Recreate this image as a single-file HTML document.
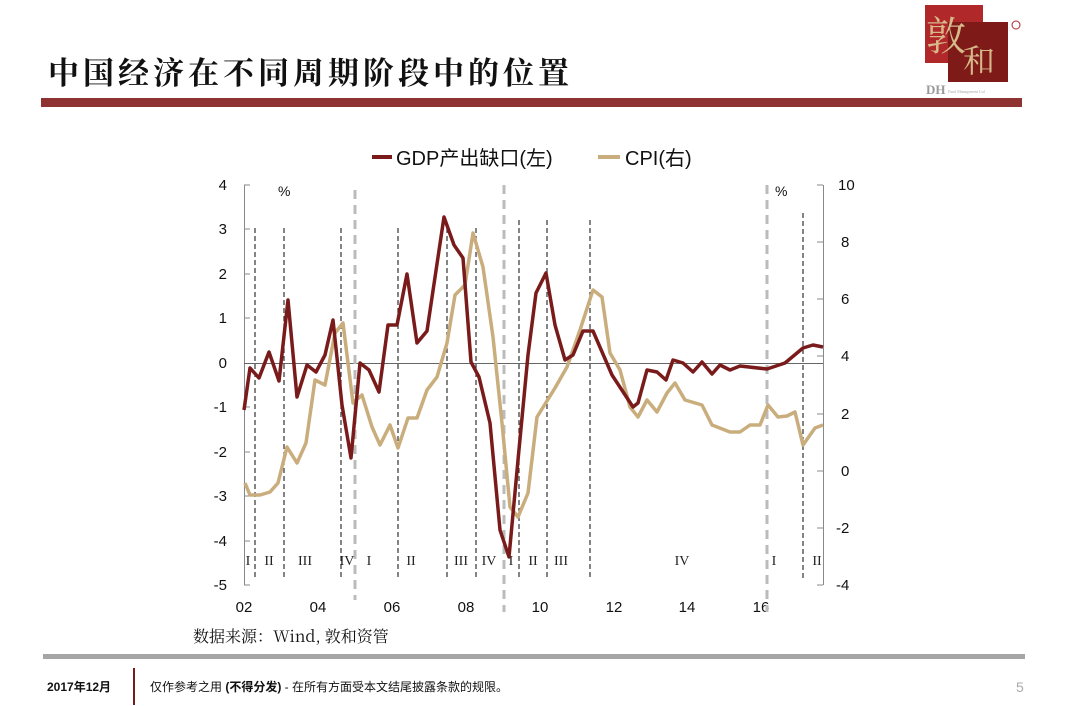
<!DOCTYPE html>
<html><head><meta charset="utf-8"><style>
body{margin:0;background:#fff;}
svg{display:block;}
</style></head><body>
<svg width="1072" height="706" viewBox="0 0 1072 706" xmlns="http://www.w3.org/2000/svg">
<rect width="1072" height="706" fill="#fff"/>
<!-- logo -->
<rect x="925" y="5" width="58" height="58" fill="#b0282a"/>
<rect x="948" y="22" width="60" height="60" fill="#7e1a18"/>
<text x="926" y="50" font-family="Noto Serif CJK SC, serif" font-size="40" fill="#d8b98a">敦</text>
<text x="963" y="72" font-family="Noto Serif CJK SC, serif" font-size="32" fill="#d8b98a">和</text>
<circle cx="1016" cy="25" r="4" fill="none" stroke="#b0282a" stroke-width="1"/>
<text x="926" y="94" font-family="Liberation Serif, serif" font-size="13" font-weight="bold" fill="#999">DH</text>
<text x="948" y="93" font-family="Liberation Serif, serif" font-size="4" fill="#aaa">Fund Management Ltd</text>
<!-- title -->
<text x="48" y="84" font-family="Noto Serif CJK SC, serif" font-size="31" font-weight="bold" letter-spacing="4" fill="#111">中国经济在不同周期阶段中的位置</text>
<rect x="41" y="98" width="981" height="9" fill="#8e3232"/>
<!-- legend -->
<line x1="372" y1="157" x2="392" y2="157" stroke="#7a1b1b" stroke-width="4"/>
<text x="396" y="165" font-family="Liberation Sans, Noto Sans CJK SC, sans-serif" font-size="20" fill="#111">GDP产出缺口(左)</text>
<line x1="598" y1="157" x2="620" y2="157" stroke="#c9ad7c" stroke-width="4"/>
<text x="625" y="165" font-family="Liberation Sans, sans-serif" font-size="20" fill="#111">CPI(右)</text>
<!-- axes -->
<g stroke="#888" stroke-width="1" fill="none">
<line x1="244.5" y1="185" x2="244.5" y2="585"/>
<line x1="823.5" y1="185" x2="823.5" y2="585"/>
<line x1="244" y1="363.5" x2="823" y2="363.5" stroke="#666"/>
</g>
<g stroke="#888" stroke-width="1">
<line x1="244" y1="185" x2="250" y2="185"/><line x1="244" y1="229" x2="250" y2="229"/><line x1="244" y1="274" x2="250" y2="274"/><line x1="244" y1="318" x2="250" y2="318"/><line x1="244" y1="407" x2="250" y2="407"/><line x1="244" y1="452" x2="250" y2="452"/><line x1="244" y1="496" x2="250" y2="496"/><line x1="244" y1="541" x2="250" y2="541"/><line x1="244" y1="585" x2="250" y2="585"/>
<line x1="817" y1="185" x2="823" y2="185"/><line x1="817" y1="242" x2="823" y2="242"/><line x1="817" y1="299" x2="823" y2="299"/><line x1="817" y1="356" x2="823" y2="356"/><line x1="817" y1="414" x2="823" y2="414"/><line x1="817" y1="471" x2="823" y2="471"/><line x1="817" y1="528" x2="823" y2="528"/><line x1="817" y1="585" x2="823" y2="585"/>
</g>
<g font-family="Liberation Sans, sans-serif" font-size="15" fill="#111" text-anchor="end">
<text x="227" y="190">4</text><text x="227" y="234">3</text><text x="227" y="279">2</text><text x="227" y="323">1</text><text x="227" y="368">0</text><text x="227" y="412">-1</text><text x="227" y="457">-2</text><text x="227" y="501">-3</text><text x="227" y="546">-4</text><text x="227" y="590">-5</text>
</g>
<g font-family="Liberation Sans, sans-serif" font-size="15" fill="#111" text-anchor="start">
<text x="838" y="190">10</text><text x="841" y="247">8</text><text x="841" y="304">6</text><text x="841" y="361">4</text><text x="841" y="419">2</text><text x="841" y="476">0</text><text x="836" y="533">-2</text><text x="836" y="590">-4</text>
</g>
<g font-family="Liberation Sans, sans-serif" font-size="15" fill="#111" text-anchor="middle">
<text x="244" y="612">02</text><text x="318" y="612">04</text><text x="392" y="612">06</text><text x="466" y="612">08</text><text x="540" y="612">10</text><text x="614" y="612">12</text><text x="687" y="612">14</text><text x="761" y="612">16</text>
</g>
<text x="278" y="196" font-family="Liberation Sans, sans-serif" font-size="14" fill="#111">%</text>
<text x="775" y="196" font-family="Liberation Sans, sans-serif" font-size="14" fill="#111">%</text>
<!-- dashed lines -->
<g stroke="#333" stroke-width="1.2" stroke-dasharray="5,3">
<line x1="255" y1="228" x2="255" y2="578"/><line x1="284" y1="228" x2="284" y2="578"/><line x1="341" y1="228" x2="341" y2="578"/><line x1="398" y1="228" x2="398" y2="578"/><line x1="447" y1="228" x2="447" y2="578"/><line x1="476" y1="228" x2="476" y2="578"/><line x1="519" y1="220" x2="519" y2="578"/><line x1="547" y1="220" x2="547" y2="578"/><line x1="590" y1="220" x2="590" y2="578"/><line x1="803" y1="213" x2="803" y2="578"/>
</g>
<g stroke="#bbb" stroke-width="3" stroke-dasharray="9,6">
<line x1="355" y1="190" x2="355" y2="600"/><line x1="504" y1="185" x2="504" y2="612"/><line x1="767" y1="185" x2="767" y2="612"/>
</g>
<g font-family="Liberation Serif, serif" font-size="14" fill="#222" text-anchor="middle">
<text x="248" y="565">I</text><text x="269" y="565">II</text><text x="305" y="565">III</text><text x="347" y="565">IV</text><text x="369" y="565">I</text><text x="411" y="565">II</text><text x="461" y="565">III</text><text x="489" y="565">IV</text><text x="511" y="565">I</text><text x="533" y="565">II</text><text x="561" y="565">III</text><text x="682" y="565">IV</text><text x="774" y="565">I</text><text x="817" y="565">II</text>
</g>
<!-- CPI -->
<polyline fill="none" stroke="#c9ad7c" stroke-width="3.5" stroke-linejoin="round" points="245,483 250,495 260,495 270,492 278,483 287,447 297,463 306,443 315,380 325,385 335,333 343,323 353,403 362,395 372,427 380,445 390,425 398,448 408,418 417,418 427,390 437,377 447,343 455,295 465,285 473,233 483,267 493,337 502,423 510,507 518,517 528,493 537,417 555,388 567,367 580,330 593,290 602,297 610,353 620,370 630,407 638,417 647,400 657,412 667,393 675,383 685,400 702,405 712,425 730,432 740,432 750,425 760,425 768,405 778,417 787,416 795,412 803,445 815,428 823,425"/>
<!-- GDP -->
<polyline fill="none" stroke="#7a1b1b" stroke-width="3.5" stroke-linejoin="round" points="244,410 250,368 259,378 269,352 279,381 288,300 297,397 307,365 316,372 325,355 333,320 342,405 351,458 360,363 369,370 379,392 388,325 397,325 407,274 417,343 427,331 444,217 454,245 463,258 471,362 479,377 490,423 500,530 509,557 518,460 528,355 536,293 546,273 555,325 565,360 573,355 583,331 593,331 612,375 633,407 638,403 647,370 657,372 666,380 673,360 683,363 693,372 702,362 712,374 720,365 730,370 740,366 767,369 785,363 803,348 813,345 823,347"/>
<!-- source -->
<text x="193" y="642" font-family="Noto Serif CJK SC, Liberation Sans, serif" font-size="16" fill="#111">数据来源：Wind, 敦和资管</text>
<!-- footer -->
<rect x="43" y="654" width="982" height="5" fill="#a6a6a6"/>
<rect x="133" y="668" width="2" height="37" fill="#7a1b1b"/>
<text x="47" y="691" font-family="Liberation Sans, Noto Sans CJK SC, sans-serif" font-size="12" font-weight="bold" fill="#111">2017年12月</text>
<text x="150" y="691" font-family="Liberation Sans, Noto Sans CJK SC, sans-serif" font-size="12" fill="#111">仅作参考之用 <tspan font-weight="bold">(不得分发)</tspan> - 在所有方面受本文结尾披露条款的规限。</text>
<text x="1016" y="692" font-family="Liberation Sans, sans-serif" font-size="14" fill="#aaa">5</text>
</svg>
</body></html>
